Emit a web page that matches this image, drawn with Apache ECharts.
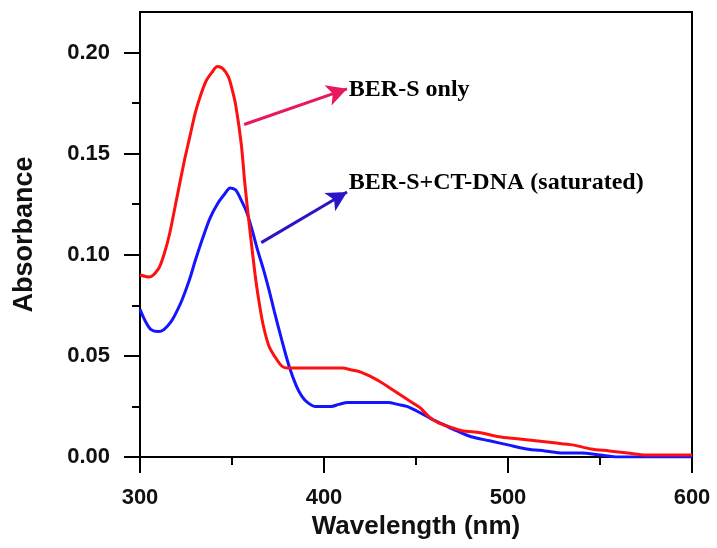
<!DOCTYPE html>
<html>
<head>
<meta charset="utf-8">
<script src="https://cdn.jsdelivr.net/npm/echarts@6/dist/echarts.min.js"></script>
<style>html,body{margin:0;padding:0;background:#fff}#c{width:717px;height:548px}</style>
</head>
<body>
<div id="c"></div>
<script>
// Wavelength (nm) and absorbance values
var wlRed = [300,305,310,313,316,320,324,327,330,333,336,339,342,345,348,350,352,355,357,359,361,363,365,367,370,373,377,380,385,390,400,410,415,420,426,431,436,441,446,452,457,462,468,475,485,495,505,515,525,535,545,555,565,575,585,600];
var absRed = [0.090,0.089,0.093,0.100,0.110,0.128,0.146,0.158,0.170,0.179,0.186,0.190,0.193,0.192,0.188,0.182,0.174,0.155,0.135,0.118,0.102,0.087,0.075,0.065,0.055,0.050,0.045,0.044,0.044,0.044,0.044,0.044,0.043,0.042,0.0395,0.037,0.034,0.031,0.028,0.0245,0.020,0.017,0.015,0.013,0.012,0.010,0.009,0.008,0.007,0.006,0.004,0.003,0.002,0.001,0.001,0.001];
var wlBlue = [300,303,306,310,313,317,320,323,327,330,334,338,342,346,349,352,355,358,361,364,367,370,373,377,381,385,388,391,395,399,404,408,413,418,425,435,440,445,452,458,465,472,480,490,500,510,520,530,540,550,560,600];
var absBlue = [0.073,0.067,0.063,0.062,0.063,0.067,0.072,0.078,0.088,0.097,0.108,0.118,0.125,0.130,0.133,0.132,0.127,0.121,0.112,0.102,0.093,0.083,0.072,0.058,0.045,0.035,0.030,0.027,0.025,0.025,0.025,0.026,0.027,0.027,0.027,0.027,0.026,0.025,0.022,0.019,0.016,0.013,0.010,0.008,0.006,0.004,0.003,0.002,0.002,0.001,0.000,0.000];
var xTicks = [300, 400, 500, 600];
var xMinorTicks = [350, 450, 550];
var yTicks = [0, 0.05, 0.10, 0.15, 0.20];
var yMinorTicks = [0.025, 0.075, 0.125, 0.175];
// annotations (data coordinates)
var labelRed = 'BER-S only';
var labelBlue = 'BER-S+CT-DNA (saturated)';
var arrowRed = [[356.6, 0.1644], [412.5, 0.1820]];
var arrowBlue = [[365.9, 0.1060], [412.5, 0.1310]];
var textRedPos = [413.5, 0.1815];
var textBluePos = [413.5, 0.1356];

function pairs(xs, ys) { return xs.map(function (x, i) { return [x, ys[i]]; }); }

var chart = echarts.init(document.getElementById('c'), null, {renderer: 'canvas'});
var axisFont = {fontFamily: 'Liberation Sans, Arial, sans-serif', fontWeight: 'bold', color: '#111'};
var tickLine = {color: '#000', width: 2};

chart.setOption({
  animation: false,
  backgroundColor: '#fff',
  grid: {left: 140, right: 25, top: 12, bottom: 91, show: true, borderColor: '#000', borderWidth: 2, backgroundColor: 'transparent'},
  xAxis: [{
    type: 'value', min: 300, max: 600, interval: 100,
    name: 'Wavelength (nm)', nameLocation: 'middle', nameGap: 53,
    nameTextStyle: Object.assign({fontSize: 26}, axisFont),
    axisLine: {show: true, onZero: false, lineStyle: {color: '#000', width: 2}},
    axisTick: {show: true, inside: false, length: 16, customValues: xTicks, lineStyle: tickLine},
    axisLabel: Object.assign({fontSize: 22, margin: 30, customValues: xTicks}, axisFont),
    splitLine: {show: false}
  }, {
    type: 'value', min: 300, max: 600, position: 'bottom',
    axisLine: {show: false},
    axisTick: {show: true, inside: false, length: 8, customValues: xMinorTicks, lineStyle: tickLine},
    axisLabel: {show: false},
    splitLine: {show: false}
  }],
  yAxis: [{
    type: 'value', min: 0, max: 0.22,
    name: 'Absorbance', nameLocation: 'middle', nameGap: 102, nameRotate: 90,
    nameTextStyle: Object.assign({fontSize: 27}, axisFont),
    axisLine: {show: true, onZero: false, lineStyle: {color: '#000', width: 2}},
    axisTick: {show: true, inside: false, length: 16, customValues: yTicks, lineStyle: tickLine},
    axisLabel: Object.assign({fontSize: 22, margin: 30, customValues: yTicks, formatter: function (v) { return v.toFixed(2); }}, axisFont),
    splitLine: {show: false}
  }, {
    type: 'value', min: 0, max: 0.22, position: 'left',
    axisLine: {show: false},
    axisTick: {show: true, inside: false, length: 8, customValues: yMinorTicks, lineStyle: tickLine},
    axisLabel: {show: false},
    splitLine: {show: false}
  }],
  series: [{
    type: 'line', name: 'BER-S only', data: pairs(wlRed, absRed), showSymbol: false, smooth: 0.3,
    lineStyle: {color: '#ff1010', width: 3}, z: 3,
    markLine: {
      silent: true, symbol: ['none', 'arrow'], symbolSize: [16, 20], animation: false,
      lineStyle: {color: '#e8185a', width: 3, type: 'solid'}, label: {show: false},
      data: [[{coord: arrowRed[0]}, {coord: arrowRed[1]}]]
    }
  }, {
    type: 'line', name: 'BER-S+CT-DNA (saturated)', data: pairs(wlBlue, absBlue), showSymbol: false, smooth: 0.3,
    lineStyle: {color: '#1414ff', width: 3}, z: 2,
    markLine: {
      silent: true, symbol: ['none', 'arrow'], symbolSize: [16, 20], animation: false,
      lineStyle: {color: '#2a14c8', width: 3, type: 'solid'}, label: {show: false},
      data: [[{coord: arrowBlue[0]}, {coord: arrowBlue[1]}]]
    }
  }]
});

var pR = chart.convertToPixel({gridIndex: 0}, textRedPos);
var pB = chart.convertToPixel({gridIndex: 0}, textBluePos);
var textStyle = {fontFamily: 'Liberation Serif, Times New Roman, serif', fontWeight: 'bold', fontSize: 24, fill: '#000', verticalAlign: 'middle', align: 'left'};
chart.setOption({
  graphic: [
    {type: 'text', x: pR[0], y: pR[1], style: Object.assign({text: labelRed}, textStyle)},
    {type: 'text', x: pB[0], y: pB[1], style: Object.assign({text: labelBlue}, textStyle)}
  ]
});
</script>
</body>
</html>
